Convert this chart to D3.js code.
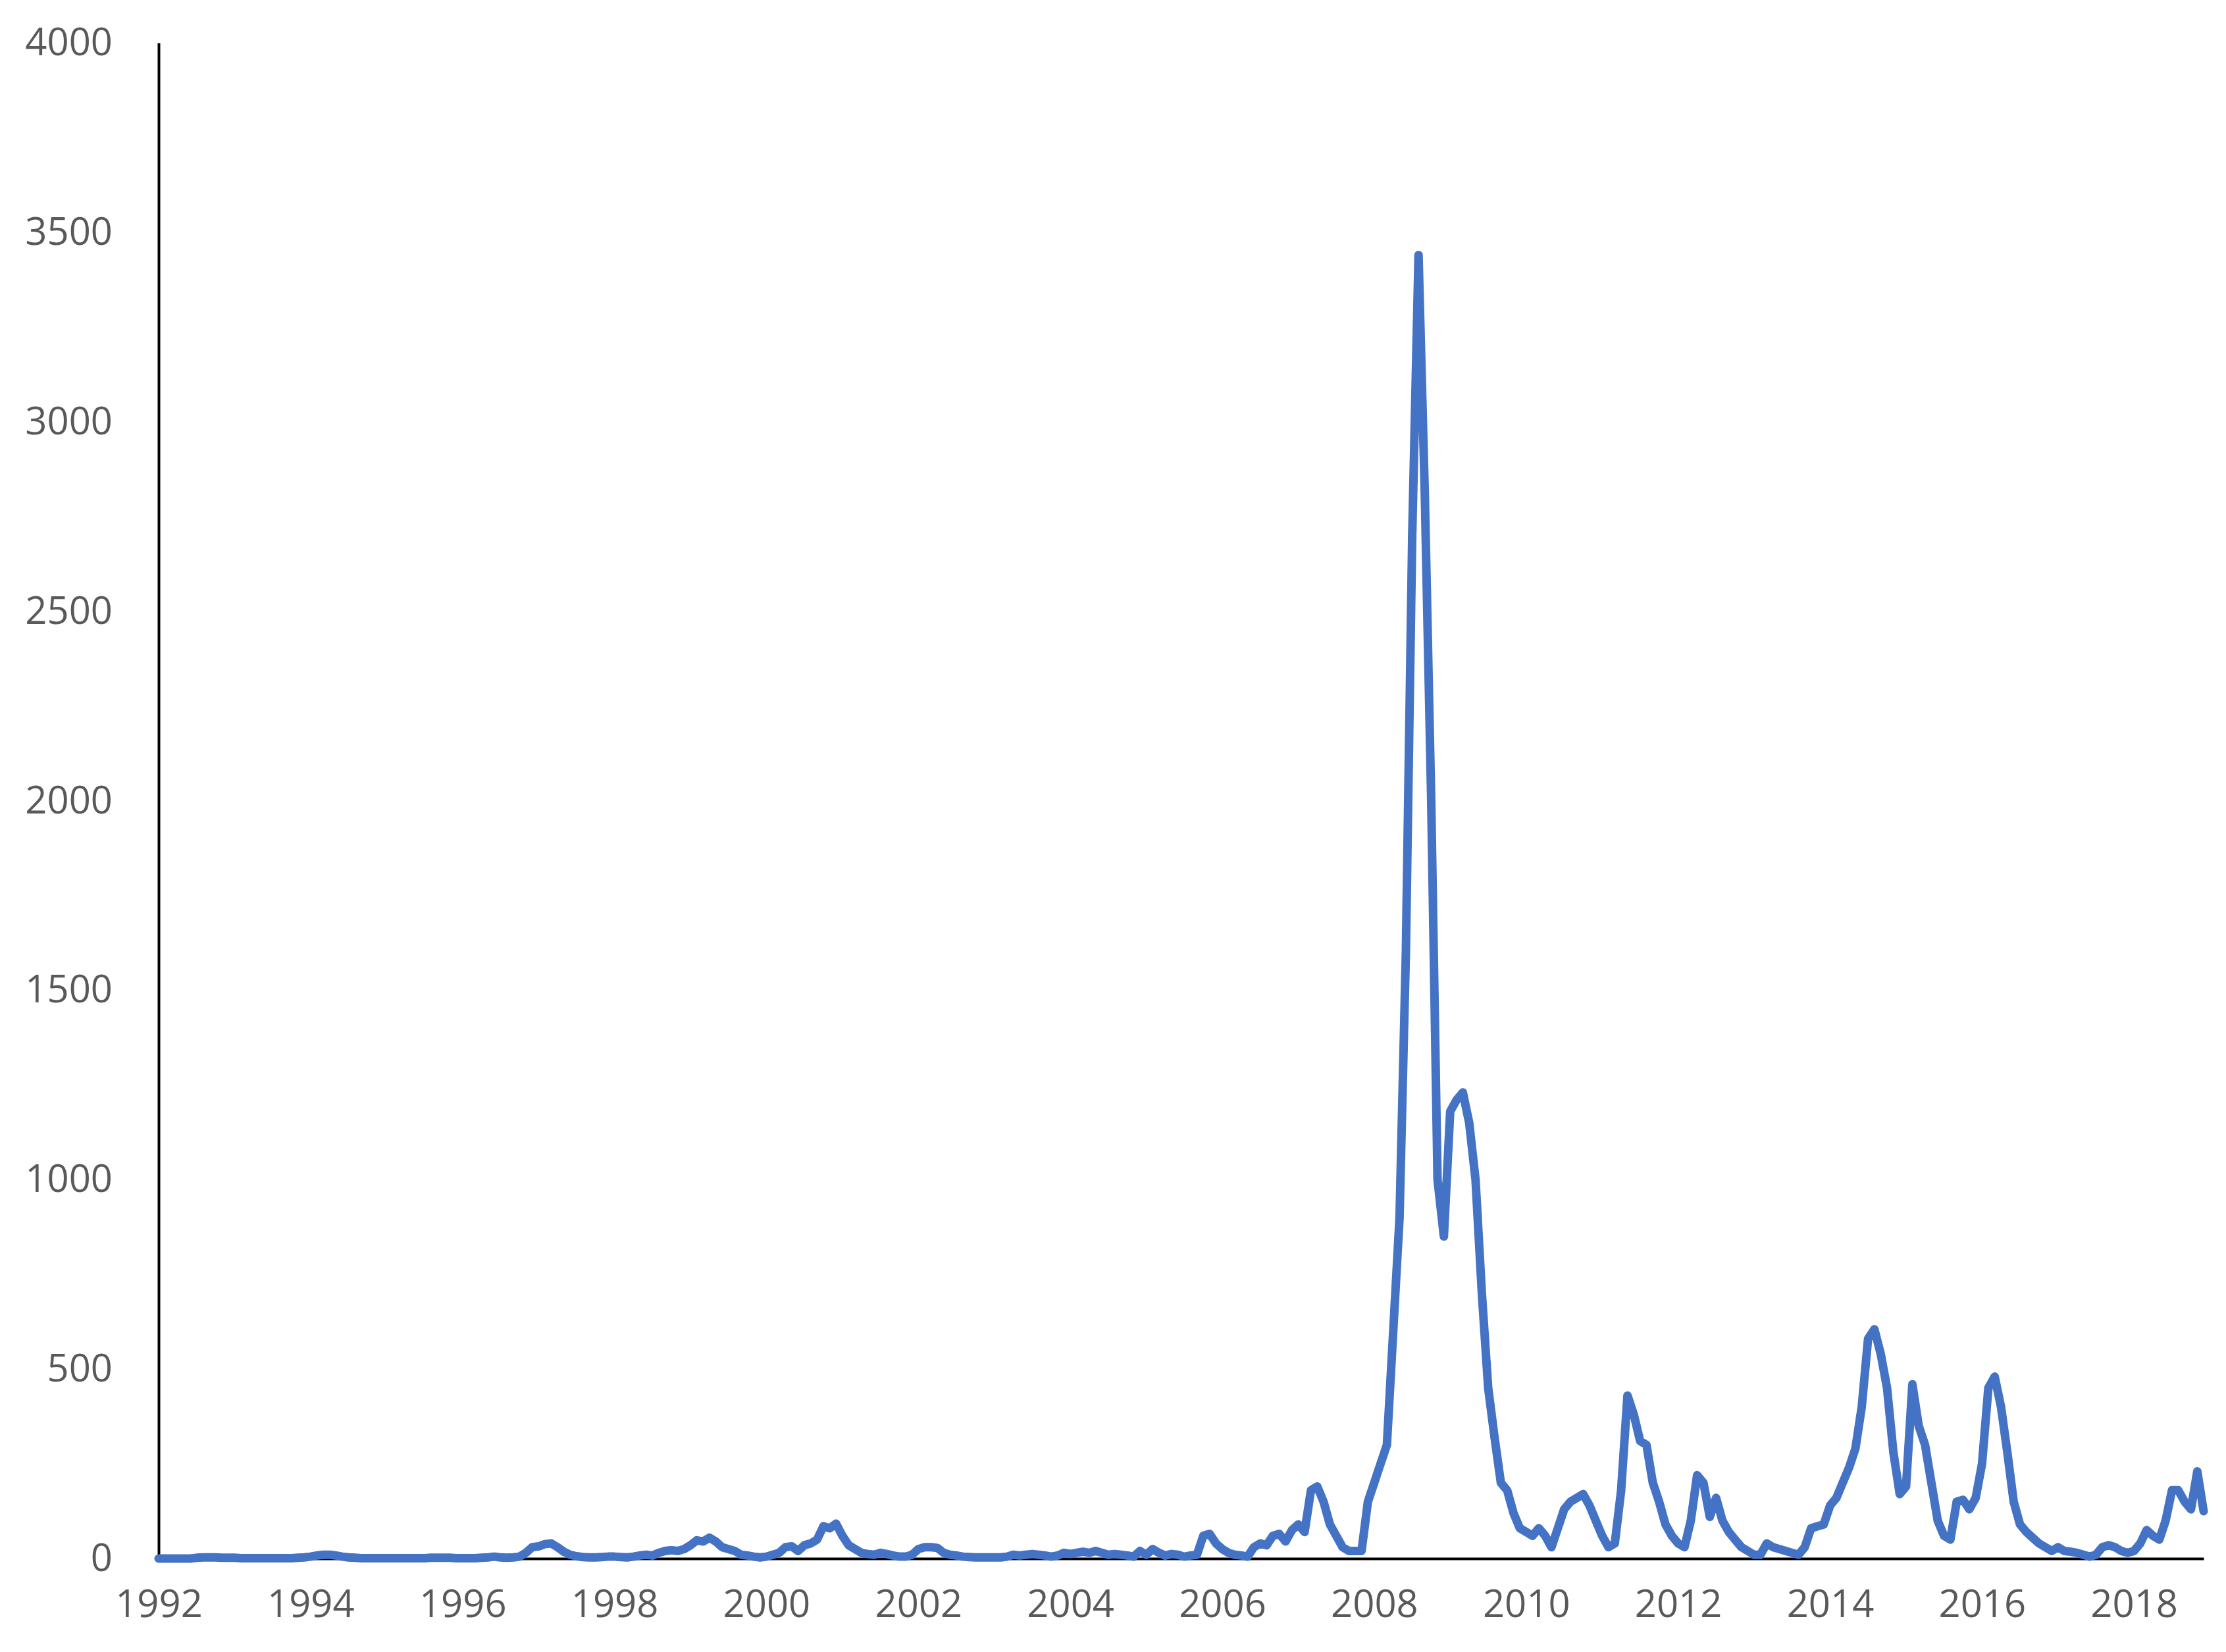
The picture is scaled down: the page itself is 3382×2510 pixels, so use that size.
<!DOCTYPE html>
<html><head><meta charset="utf-8">
<script src="https://cdn.jsdelivr.net/npm/d3@7"></script>
<style>body{margin:0;background:#fff}</style></head>
<body><svg id="c" width="3382" height="2510"></svg>
<script>
const startYear = 1992;
const yTicks = [0,500,1000,1500,2000,2500,3000,3500,4000];
const xTickYears = [1992,1994,1996,1998,2000,2002,2004,2006,2008,2010,2012,2014,2016,2018];
const y1992=[0,0,0,0,0,0,2,3,3,3,2,2];
const y1993=[2,1,1,1,1,1,1,1,1,1,2,3];
const y1994=[5,8,10,10,8,5,3,2,1,1,1,1];
const y1995=[1,1,1,1,1,1,1,2,2,2,2,1];
const y1996=[1,1,1,2,3,5,3,2,3,5,15,30];
const y1997=[32,38,40,30,18,10,6,4,3,3,4,5];
const y1998=[5,4,3,5,8,10,8,15,20,22,20,25];
const y1999=[35,48,45,55,45,30,25,20,10,8,5,3];
const y2000=[5,10,15,30,32,20,35,40,50,85,80,92];
const y2001=[60,35,25,15,12,10,15,12,8,5,5,10];
const y2002=[25,30,30,28,15,10,8,5,4,3,3,3];
const y2003=[3,3,5,10,8,10,12,10,8,5,8,15];
const y2004=[12,15,18,15,20,15,10,12,10,8,5,20];
const y2005=[10,25,15,8,12,10,5,8,10,60,65,40];
const y2006=[25,15,10,8,5,30,40,35,60,65,45,75];
const y2007=[90,70,180,190,150,90,60,30,20,20,20,150];
const y2008=[200,250,300,600,900,1600,2700,3440,2800,2000,1000,850];
const y2009=[1180,1210,1230,1150,1000,700,450,320,200,180,120,80];
const y2010=[70,60,80,60,30,80,130,150,160,170,140,100];
const y2011=[60,30,40,180,430,380,310,300,200,150,90,60];
const y2012=[40,30,100,220,200,110,160,100,70,50,30,20];
const y2013=[10,10,40,30,25,20,15,10,30,80,85,90];
const y2014=[140,160,200,240,290,400,580,605,540,450,280,170];
const y2015=[190,460,350,300,200,100,60,50,150,155,130,160];
const y2016=[250,450,480,400,280,150,90,70,55,40,30,20];
const y2017=[30,20,18,15,10,5,10,30,35,30,20,15];
const y2018=[20,40,75,60,50,100,180,180,150,130,230,125];
const values=[].concat(y1992,y1993,y1994,y1995,y1996,y1997,y1998,y1999,y2000,y2001,y2002,y2003,y2004,y2005,y2006,y2007,y2008,y2009,y2010,y2011,y2012,y2013,y2014,y2015,y2016,y2017,y2018);

const svg=d3.select("#c");
const L=241,R=3348,T=65,B=2368;
const x=d3.scaleLinear().domain([0,values.length-1]).range([L,R]);
const y=d3.scaleLinear().domain([0,4000]).range([B,T]);
const font="'Open Sans','Liberation Sans',sans-serif";

svg.append("g").attr("transform",`translate(${L},0)`)
 .call(d3.axisLeft(y).tickValues(yTicks).tickFormat(d3.format("d")).tickSize(0).tickPadding(70))
 .call(g=>{g.select(".domain").attr("stroke","#000").attr("stroke-width",4);
   g.selectAll("text").attr("font-family",font).attr("font-size",58).attr("fill","#595959");});

svg.append("g").attr("transform",`translate(0,${B})`)
 .call(d3.axisBottom(x).tickValues(xTickYears.map(yr=>(yr-startYear)*12)).tickFormat(i=>String(startYear+i/12)).tickSize(0).tickPadding(48))
 .call(g=>{g.select(".domain").attr("stroke","#000").attr("stroke-width",4);
   g.selectAll("text").attr("font-family",font).attr("font-size",58).attr("fill","#595959");});

svg.append("path").datum(values)
 .attr("fill","none").attr("stroke","#4472C4").attr("stroke-width",13)
 .attr("stroke-linejoin","round").attr("stroke-linecap","round")
 .attr("d",d3.line().x((d,i)=>x(i)).y(d=>y(d)));
</script></body></html>
